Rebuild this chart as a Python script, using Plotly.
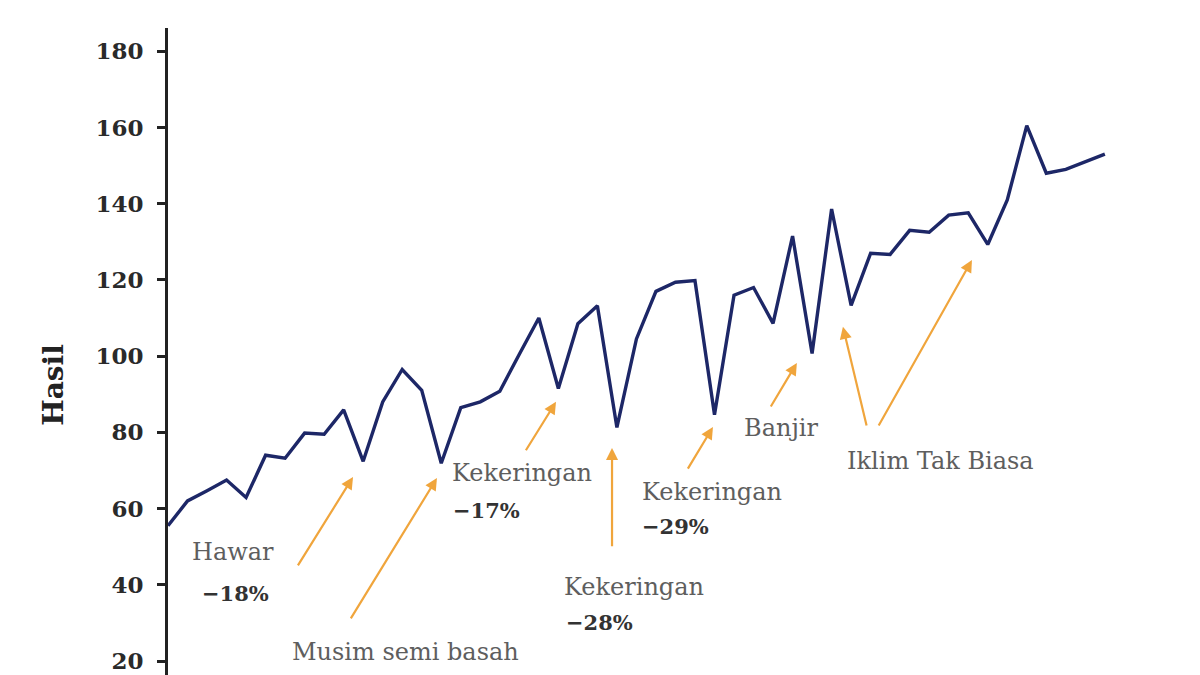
import plotly.graph_objects as go

years = list(range(1960, 2009))
yields = [55.5, 62.0, 64.7, 67.5, 62.9, 74.0, 73.2, 79.8, 79.5, 85.9,
          72.4, 88.0, 96.5, 91.0, 71.9, 86.5, 88.0, 90.8, 100.5, 110.0,
          91.5, 108.5, 113.2, 81.3, 104.5, 117.0, 119.4, 119.8, 84.6, 116.0,
          118.0, 108.6, 131.5, 100.7, 138.6, 113.3, 127.0, 126.7, 133.0, 132.5,
          137.0, 137.6, 129.3, 141.0, 160.5, 148.0, 149.0, 151.0, 153.0]

y_ticks = [20, 40, 60, 80, 100, 120, 140, 160, 180]

# event labels: (text, x-year, y-value, anchor, bold)
event_texts = [
    ("Hawar", 1963.33, 48.6, "center", False),
    ("−18%", 1963.48, 37.8, "center", True),
    ("Musim semi basah", 1972.19, 22.4, "center", False),
    ("Kekeringan", 1974.45, 69.3, "left", False),
    ("−17%", 1974.5, 59.6, "left", True),
    ("Kekeringan", 1980.18, 39.4, "left", False),
    ("−28%", 1980.3, 30.2, "left", True),
    ("Kekeringan", 1984.18, 64.4, "left", False),
    ("−29%", 1984.18, 55.2, "left", True),
    ("Banjir", 1989.4, 81.2, "left", False),
    ("Iklim Tak Biasa", 1994.68, 72.5, "left", False),
]

# arrows: (head x, head y, tail x, tail y)
arrows = [
    (1969.48, 68.3, 1966.61, 44.7),
    (1973.78, 68.0, 1969.32, 30.8),
    (1979.88, 88.0, 1978.29, 74.9),
    (1982.75, 75.9, 1982.75, 49.7),
    (1987.92, 81.4, 1986.59, 70.1),
    (1992.22, 98.2, 1990.84, 86.4),
    (1994.58, 107.7, 1995.81, 81.4),
    (2001.19, 125.2, 1996.37, 81.4),
]

fig = go.Figure()
fig.add_trace(go.Scatter(x=years, y=yields, mode="lines",
                         line=dict(color="#1d2767", width=3.4),
                         hoverinfo="skip", showlegend=False))

annotations = []
for txt, xx, yy, anc, bold in event_texts:
    annotations.append(dict(
        x=xx, y=yy, xref="x", yref="y", text=(f"<b>{txt}</b>" if bold else txt),
        showarrow=False, xanchor=anc, yanchor="middle",
        font=dict(family="DejaVu Serif", size=(21 if bold else 24),
                  color=("#333333" if bold else "#5e5e5e"))))
for hx, hy, tx, ty in arrows:
    annotations.append(dict(
        x=hx, y=hy, xref="x", yref="y", ax=tx, ay=ty, axref="x", ayref="y",
        text="", showarrow=True, arrowhead=2, arrowsize=1.1, arrowwidth=2.2,
        arrowcolor="#f0a53c", standoff=0, startstandoff=0))
annotations.append(dict(
    x=-0.113, y=0.448, xref="paper", yref="paper", text="<b>Hasil</b>",
    textangle=-90, showarrow=False, xanchor="center", yanchor="middle",
    font=dict(family="DejaVu Serif", size=28, color="#222")))

fig.update_layout(
    width=1200, height=675,
    margin=dict(l=160, r=28, t=20, b=8),
    paper_bgcolor="white", plot_bgcolor="white",
    annotations=annotations,
    xaxis=dict(range=[1960, 2011.85], visible=False, showgrid=False, zeroline=False),
    yaxis=dict(range=[16.33, 186.1], tickvals=y_ticks, ticktext=[str(v) for v in y_ticks],
               showgrid=False, zeroline=False, showline=True, linecolor="#222",
               linewidth=3, ticks="outside", ticklen=8, tickwidth=2.5, tickcolor="#222",
               ticklabelstandoff=9,
               tickfont=dict(family="DejaVu Serif", size=23, color="#2a2a2a", weight="bold")),
)

fig.write_html("out.html")
